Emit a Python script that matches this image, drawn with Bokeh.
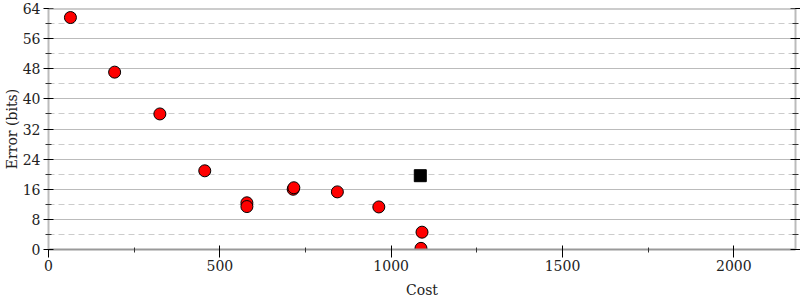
from bokeh.plotting import figure
from bokeh.models import FixedTicker, LinearAxis, Range1d, Span
from bokeh.embed import file_html
from bokeh.resources import INLINE

# data
cost = [64, 193, 325, 456, 579, 579, 714, 716, 843, 964, 1090, 1087]
error = [61.6, 47.1, 36.0, 20.9, 12.4, 11.4, 16.0, 16.4, 15.3, 11.3, 4.6, 0.3]
best_cost = [1085]
best_error = [19.6]
x_ticks = [0, 500, 1000, 1500, 2000]
x_minor = [250, 750, 1250, 1750]
y_ticks = [0, 8, 16, 24, 32, 40, 48, 56, 64]
y_minor = [4, 12, 20, 28, 36, 44, 52, 60]

FONT = "DejaVu Serif"

p = figure(width=800, height=300, output_backend="svg", toolbar_location=None,
           x_range=Range1d(0, 2180), y_range=Range1d(0, 64),
           min_border_left=10, min_border_right=3, min_border_top=8, min_border_bottom=10)
p.outline_line_color = None
p.xgrid.visible = False
p.ygrid.ticker = FixedTicker(ticks=y_ticks, minor_ticks=y_minor)
p.ygrid.grid_line_color = "#bbbbbb"
p.ygrid.grid_line_width = 1
p.ygrid.minor_grid_line_color = "#cccccc"
p.ygrid.minor_grid_line_dash = "6 4"

def style(ax, line_color):
    ax.axis_line_color = line_color
    ax.axis_line_width = 2
    ax.major_tick_line_color = "#000000"
    ax.minor_tick_line_color = "#333333"
    ax.major_tick_in = 5
    ax.major_tick_out = 5
    ax.minor_tick_in = 3
    ax.minor_tick_out = 3
    ax.major_label_text_font = FONT
    ax.major_label_text_font_size = "14px"
    ax.major_label_text_color = "#222222"
    ax.axis_label_text_font = FONT
    ax.axis_label_text_font_size = "14px"
    ax.axis_label_text_font_style = "normal"
    ax.axis_label_text_color = "#222222"

xa = p.xaxis[0]
xa.ticker = FixedTicker(ticks=x_ticks, minor_ticks=x_minor)
style(xa, "#999999")
xa.major_tick_in = 4
xa.major_tick_out = 8
xa.minor_tick_in = 2
xa.minor_tick_out = 3
xa.major_label_standoff = 2
xa.axis_label = "Cost"
xa.axis_label_standoff = 8

ya = p.yaxis[0]
ya.ticker = FixedTicker(ticks=y_ticks, minor_ticks=y_minor)
style(ya, "#bbbbbb")
ya.major_label_standoff = 3
ya.axis_label = "Error (bits)"
ya.axis_label_standoff = 0

ra = LinearAxis(ticker=FixedTicker(ticks=y_ticks, minor_ticks=y_minor))
style(ra, "#bbbbbb")
ra.major_label_overrides = {t: "" for t in y_ticks}
ra.major_label_standoff = 0
p.add_layout(ra, "right")

p.add_layout(Span(location=64, dimension="width", line_color="#999999", line_width=2))

p.scatter(cost, error, size=12, marker="circle", fill_color="#ff0000",
          line_color="#000000", line_width=1)
p.scatter(best_cost, best_error, size=12, marker="square", fill_color="#000000",
          line_color="#000000")

open("out.html", "w").write(file_html(p, INLINE))
